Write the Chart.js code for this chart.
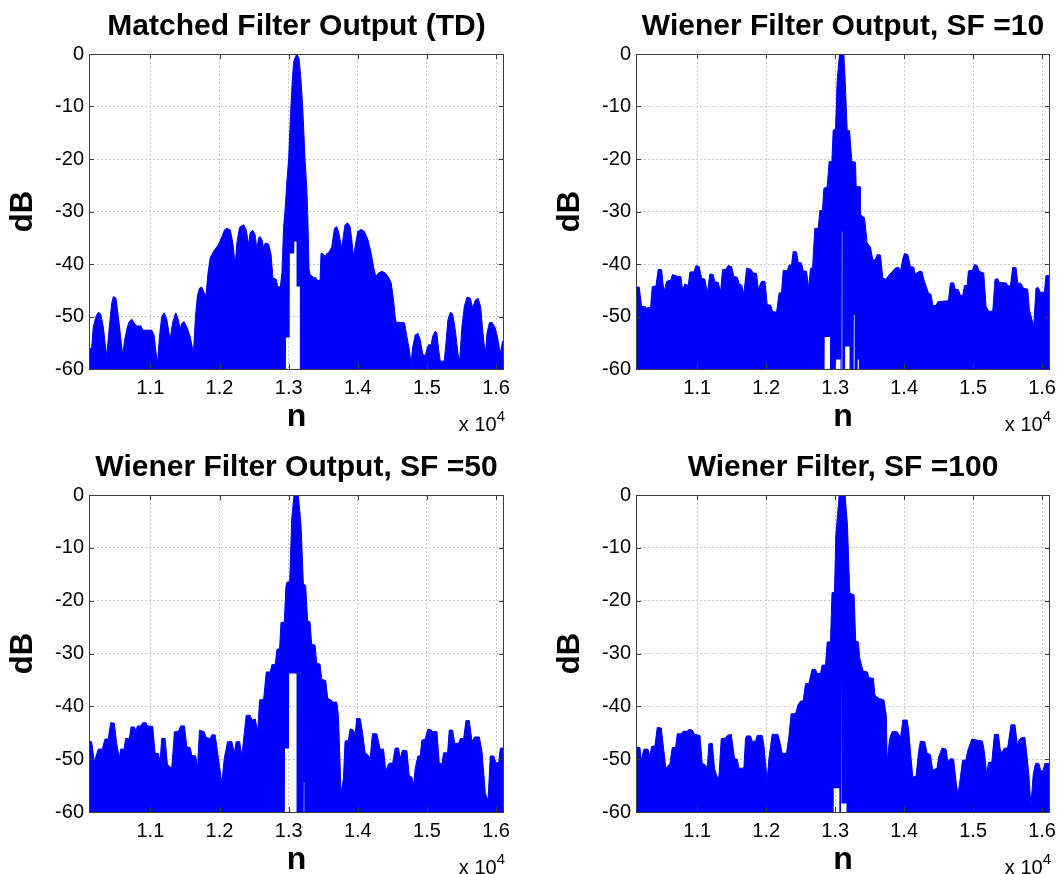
<!DOCTYPE html>
<html>
<head>
<meta charset="utf-8">
<title>Matched and Wiener filter outputs</title>
<script src="https://cdn.jsdelivr.net/npm/chart.js@4.4.1/dist/chart.umd.min.js"></script>
<style>
  html, body { margin: 0; padding: 0; background: #fff; }
  #figure { position: relative; width: 1062px; height: 874px; overflow: hidden;
            font-family: "Liberation Sans", Arial, Helvetica, sans-serif; }
  #figure canvas { position: absolute; }
  .title { position: absolute; text-align: center; font-weight: bold; font-size: 30px;
           line-height: 30px; white-space: nowrap; color: #000; }
  .mult { position: absolute; font-size: 20px; line-height: 20px; white-space: nowrap;
          color: #000; text-align: right; }
  .mult sup { font-size: 15px; line-height: 0; vertical-align: 10px; }
</style>
</head>
<body>
<div id="figure"></div>
<script>
// axis ticks (n axis is shown scaled by 10^4)
const xTickValues = [11000, 12000, 13000, 14000, 15000, 16000];
const xTickLabels = ["1.1", "1.2", "1.3", "1.4", "1.5", "1.6"];
const yTickValues = [-60, -50, -40, -30, -20, -10, 0];
const yTickLabels = ["-60", "-50", "-40", "-30", "-20", "-10", "0"];
const X_MIN = 10112;
const X_MAX = 16115;

// matched filter (time domain): envelope of |y| in dB
const mfN = [10112, 10150, 10174, 10213, 10246, 10280, 10319, 10367, 10406, 10440, 10464, 10502, 10536, 10599, 10628, 10657, 10691, 10730, 10763, 10802, 10865, 10889, 10971, 11019, 11053, 11101, 11130, 11164, 11198, 11237, 11285, 11324, 11367, 11401, 11430, 11459, 11488, 11527, 11575, 11623, 11652, 11681, 11710, 11744, 11778, 11802, 11831, 11865, 11913, 11985, 12034, 12072, 12106, 12155, 12193, 12227, 12251, 12290, 12348, 12386, 12420, 12444, 12483, 12517, 12541, 12565, 12589, 12618, 12638, 12662, 12710, 12744, 12773, 12821, 12841, 12879, 12903, 12927, 12952, 12976, 13000, 13019, 13033, 13053, 13072, 13116, 13150, 13179, 13203, 13237, 13261, 13275, 13295, 13309, 13357, 13391, 13406, 13454, 13468, 13502, 13526, 13551, 13575, 13623, 13662, 13696, 13720, 13744, 13768, 13792, 13816, 13855, 13889, 13913, 13937, 13961, 14000, 14048, 14096, 14145, 14193, 14227, 14261, 14299, 14348, 14396, 14444, 14483, 14517, 14541, 14555, 14613, 14676, 14710, 14749, 14768, 14797, 14831, 14870, 14903, 14937, 14976, 15004, 15024, 15062, 15082, 15120, 15144, 15169, 15193, 15251, 15280, 15304, 15338, 15372, 15410, 15449, 15473, 15507, 15541, 15580, 15628, 15661, 15700, 15739, 15777, 15811, 15845, 15869, 15903, 15941, 15980, 16014, 16062, 16096, 16115];
const mfDb = [-56.2, -56, -52, -50, -49.2, -49.5, -52, -57.6, -52, -47.5, -46.2, -46.5, -50, -57.3, -54.5, -52.5, -51, -50.5, -51.2, -51.8, -51.8, -52.6, -52.6, -52.6, -53.5, -59.2, -54, -50, -49.3, -50.5, -54.4, -51, -49.3, -50.5, -52.2, -51.2, -51, -52, -53.8, -57, -50, -46, -44.6, -44.4, -45.5, -46.2, -42, -38.8, -37.6, -36.3, -34.8, -33.5, -33.2, -33.5, -36, -40.2, -36, -33, -32.5, -33.5, -36.3, -34, -33.6, -34.5, -37.3, -35, -34.8, -35.5, -37, -36, -36.2, -38, -42.7, -42.9, -44.3, -44.4, -41.7, -33, -29, -24, -20, -14, -10, -5, -1.5, 0, -0.8, -5, -10, -20, -25.2, -30, -41, -42, -42.5, -42.6, -43, -43.2, -38, -38.1, -38.6, -38, -37.9, -36.8, -33.2, -32.9, -33.8, -35.3, -37, -34.6, -32.5, -32.2, -32.9, -35.3, -38.6, -36.7, -33.8, -33.4, -33.8, -35.3, -37.9, -40.5, -42.4, -41.7, -41.4, -41.7, -42.5, -43.6, -46.8, -50, -51.1, -51.1, -51.2, -53.8, -56.6, -58.9, -55.7, -53.5, -53.2, -54.4, -57, -57.5, -56, -55.4, -55.4, -53.8, -52.8, -53.2, -56.3, -58.5, -58.5, -54.4, -50.6, -49.2, -49.5, -52.5, -57, -58.5, -51.9, -48.1, -46.3, -46.5, -48.4, -46.9, -46.5, -48.1, -53.2, -57.3, -53.2, -51.2, -51.1, -51.9, -53.5, -57, -54.7, -54.4];
// lower edge of the trace (where the signal never drops to -60 dB)
const mfLowN = [10112, 12960, 12962, 13015, 13017, 13080, 13082, 13114, 13116, 13162, 13164, 16115];
const mfLowDb = [-60, -60, -54, -54, -38, -38, -35.7, -35.7, -44.3, -44.3, -60, -60];

// Wiener filter, SF = 10
const wf10N = [10112, 10159, 10193, 10242, 10266, 10324, 10348, 10401, 10435, 10483, 10517, 10556, 10614, 10643, 10700, 10763, 10787, 10821, 10870, 10894, 10952, 10981, 11029, 11063, 11111, 11145, 11184, 11232, 11256, 11304, 11338, 11367, 11415, 11449, 11498, 11531, 11580, 11609, 11643, 11676, 11715, 11778, 11812, 11860, 11884, 11932, 11981, 12015, 12063, 12092, 12150, 12188, 12222, 12246, 12304, 12333, 12367, 12391, 12440, 12464, 12512, 12536, 12585, 12614, 12643, 12672, 12705, 12754, 12778, 12816, 12836, 12884, 12913, 12952, 12971, 13005, 13029, 13063, 13126, 13145, 13174, 13208, 13242, 13295, 13304, 13360, 13367, 13425, 13464, 13512, 13546, 13580, 13609, 13657, 13691, 13739, 13773, 13811, 13869, 13918, 13947, 13980, 14005, 14053, 14092, 14140, 14159, 14222, 14256, 14294, 14352, 14391, 14415, 14463, 14488, 14642, 14671, 14719, 14739, 14787, 14816, 14850, 14874, 14913, 14932, 14990, 15019, 15058, 15091, 15154, 15188, 15227, 15285, 15318, 15357, 15381, 15478, 15502, 15541, 15574, 15623, 15647, 15695, 15729, 15792, 15816, 15879, 15912, 15946, 15975, 16033, 16057, 16115];
const wf10Db = [-44.4, -44.4, -48.1, -48.1, -48.4, -48.2, -44.3, -44.2, -41, -41.1, -45.4, -43.3, -43.1, -42, -42.3, -42.4, -44.9, -43.8, -44.1, -41.5, -41.5, -40.3, -40.5, -42.7, -42.9, -45.5, -41.9, -42, -43.4, -43.5, -45.4, -41.1, -41, -40.3, -40.5, -42.4, -42.5, -43.8, -44, -45.7, -40.8, -41, -41.7, -41.8, -44.8, -43.3, -43.3, -47.8, -47.8, -49, -49.2, -45.5, -45.5, -41.2, -41.3, -40.2, -40.2, -37.6, -37.7, -39.7, -39.8, -41.3, -41.4, -44.6, -40.8, -40.7, -33.2, -33.2, -29.8, -29.8, -25.6, -25.3, -20.5, -20.5, -14.5, -14.4, -5, 0, 0, -5, -14.5, -14.6, -20.5, -20.6, -25.2, -25.3, -30.6, -31.2, -36, -36.8, -39.2, -39.2, -38.2, -38.3, -42.7, -42.9, -42.2, -41.7, -40.8, -40.6, -41.4, -39, -38, -38.2, -40.5, -40.6, -41.9, -41.4, -41.4, -43.3, -45.5, -45.8, -47.9, -47.9, -47.2, -47, -43.6, -43.6, -44.8, -44.9, -46, -46, -44.1, -44.1, -41.3, -41.2, -40.1, -40.3, -41.4, -41.7, -48.1, -49, -49, -42.9, -42.8, -43.5, -43.6, -44.1, -44.2, -40.7, -40.7, -43.6, -43.7, -44.6, -44.8, -48.7, -51.9, -44.6, -44.5, -45.4, -45.4, -42.2, -42.2];
const wf10LowN = [10112, 12846, 12848, 12925, 12927, 13012, 13014, 13077, 13079, 13094, 13097, 13103, 13106, 13143, 13145, 13208, 13210, 13268, 13271, 13281, 13284, 13326, 13328, 13343, 13345, 16115];
const wf10LowDb = [-60, -60, -53.9, -53.9, -60, -60, -58.2, -58.2, -60, -60, -33.8, -33.8, -60, -60, -55.7, -55.7, -60, -60, -49.7, -49.7, -60, -60, -58.2, -58.2, -60, -60];

// Wiener filter, SF = 50
const wf50N = [10112, 10150, 10189, 10246, 10304, 10343, 10391, 10425, 10478, 10512, 10551, 10570, 10618, 10643, 10696, 10720, 10768, 10792, 10812, 10860, 10889, 10937, 10957, 11034, 11068, 11116, 11140, 11164, 11213, 11246, 11309, 11348, 11406, 11440, 11493, 11527, 11575, 11599, 11657, 11681, 11710, 11778, 11807, 11865, 11889, 11937, 11971, 12034, 12068, 12116, 12179, 12213, 12241, 12290, 12324, 12357, 12386, 12444, 12469, 12517, 12551, 12580, 12638, 12676, 12734, 12758, 12806, 12831, 12869, 12889, 12937, 12960, 12975, 13015, 13045, 13078, 13140, 13179, 13213, 13246, 13275, 13309, 13333, 13382, 13406, 13454, 13478, 13536, 13565, 13613, 13633, 13696, 13720, 13758, 13792, 13816, 13865, 13889, 13937, 13961, 13985, 14034, 14067, 14106, 14154, 14179, 14212, 14275, 14323, 14372, 14406, 14444, 14483, 14502, 14541, 14589, 14613, 14647, 14710, 14744, 14782, 14806, 14831, 14869, 14903, 14927, 14975, 15014, 15062, 15086, 15145, 15178, 15217, 15241, 15299, 15323, 15372, 15401, 15459, 15483, 15531, 15565, 15613, 15652, 15690, 15758, 15797, 15845, 15884, 15917, 15966, 15999, 16038, 16062, 16115];
const wf50Db = [-46.6, -46.7, -50.5, -48.1, -48.1, -46.2, -46.2, -43.1, -43.2, -47, -49.9, -48.1, -48.1, -46.1, -46.1, -43.9, -43.9, -44.7, -43.7, -43.7, -43.1, -43.1, -43.7, -43.8, -48.9, -48.9, -50.5, -46.1, -46.1, -51, -51.7, -44.8, -44.7, -43.7, -43.7, -47.7, -47.8, -49.3, -49.4, -51.9, -44.5, -44.8, -45.9, -46.1, -45.4, -45.4, -48.6, -54.6, -49.9, -46.7, -46.7, -48.9, -46.7, -46.7, -49.4, -45.2, -41.7, -41.7, -42.6, -42.4, -44.8, -38.8, -38.7, -33.5, -33.5, -32.1, -32.1, -29.2, -29.1, -24.1, -24.1, -17.4, -16.5, -16.4, -4.4, 0, 0, -5.7, -16.9, -17.1, -23.9, -24, -28.3, -28.4, -31.9, -32, -34.9, -35.1, -38.5, -38.8, -39.2, -39.2, -41.7, -56.5, -53.7, -46.6, -46.4, -44.3, -44.5, -45.4, -42.3, -42.3, -44.8, -48.8, -49.3, -49.9, -45.2, -45.2, -48.1, -48.1, -52.3, -50.9, -50.7, -50.9, -47.9, -47.9, -49.9, -48.3, -48.4, -53.1, -53.4, -55, -51.7, -49.4, -49.4, -46.4, -46.2, -44.3, -44.5, -44.8, -44.8, -50.7, -50.9, -48.8, -48.8, -44.5, -44.5, -47, -47, -46.1, -46.1, -42.7, -42.7, -46.7, -45.8, -45.8, -48.6, -56.5, -57.8, -49.4, -49.4, -50.7, -50.7, -47.9, -47.9];
const wf50LowN = [10112, 12945, 12947, 13005, 13007, 13114, 13116, 13218, 13220, 13226, 13228, 16115];
const wf50LowDb = [-60, -60, -48, -48, -33.8, -33.8, -60, -60, -54.3, -54.3, -60, -60];

// Wiener filter, SF = 100
const wf100N = [10112, 10169, 10189, 10227, 10285, 10314, 10338, 10387, 10420, 10478, 10507, 10546, 10604, 10638, 10686, 10710, 10768, 10797, 10855, 10879, 10928, 10961, 11039, 11072, 11121, 11145, 11169, 11217, 11251, 11290, 11314, 11348, 11411, 11435, 11493, 11522, 11541, 11580, 11604, 11676, 11700, 11715, 11773, 11797, 11845, 11869, 11942, 11966, 12014, 12039, 12087, 12169, 12198, 12232, 12294, 12328, 12362, 12425, 12459, 12497, 12536, 12570, 12618, 12666, 12715, 12739, 12787, 12811, 12860, 12884, 12932, 12954, 12990, 13010, 13058, 13144, 13178, 13212, 13274, 13298, 13337, 13356, 13404, 13467, 13491, 13553, 13577, 13635, 13707, 13741, 13755, 13789, 13827, 13899, 13948, 13981, 14044, 14068, 14092, 14126, 14174, 14212, 14236, 14299, 14332, 14380, 14414, 14477, 14501, 14549, 14607, 14635, 14669, 14717, 14751, 14780, 14813, 14847, 14895, 14924, 14982, 15136, 15164, 15198, 15222, 15270, 15309, 15367, 15391, 15415, 15453, 15501, 15549, 15607, 15646, 15665, 15703, 15751, 15775, 15809, 15838, 15871, 15905, 15953, 15982, 16016, 16040, 16115];
const wf100Db = [-47.7, -47.8, -50.2, -48.1, -48.1, -49.4, -47.6, -47.5, -44, -44.1, -47.4, -51.8, -50.8, -47.8, -47.8, -45.2, -45.2, -44.7, -44.7, -44.4, -44.5, -45.3, -45.5, -50.8, -51.1, -51.8, -47.1, -47, -51.8, -53.4, -53.4, -46.1, -46, -45.5, -45.3, -48, -49.9, -50, -51.7, -51.7, -46.1, -45.6, -45.6, -46.6, -46.6, -45.5, -45.5, -47.4, -54, -49.9, -45.3, -45.3, -46.7, -48.9, -48.9, -45.8, -41.4, -41.4, -39.8, -39, -39, -35.7, -35.7, -33, -33, -33.8, -33.8, -32.2, -32.2, -27.8, -27.8, -18.5, -18.4, -7.6, 0, 0, -5.7, -18.6, -18.9, -27.7, -27.8, -30.9, -33.3, -33.5, -34.6, -34.7, -37.9, -38.5, -38.8, -41.7, -50.5, -46.1, -44.8, -44.8, -45.9, -42.6, -42.6, -44.8, -48.6, -53.4, -53.2, -48.3, -46.6, -46.7, -48.9, -49.1, -52.1, -51.7, -49.6, -47.9, -48.1, -50.5, -49.9, -50, -54, -56.8, -53.7, -50.2, -50.2, -48.3, -46.2, -46.6, -48.6, -53, -50.6, -50.6, -45.3, -45.3, -48, -48.9, -47.9, -47.9, -43.5, -43.5, -47.7, -46.4, -45.9, -45.9, -48.6, -53, -58.9, -53, -50.8, -50.8, -52.2, -52.2, -50.8, -50.8];
const wf100LowN = [10112, 12978, 12980, 13060, 13062, 13084, 13087, 13093, 13096, 13164, 13166, 16115];
const wf100LowDb = [-60, -60, -55.5, -55.5, -60, -60, -34, -34, -58.4, -58.4, -60, -60];

const BLUE = "#0000ff";
const GRID = "#c8c8c8";
const PANEL_W = 531;
const PANEL_H = 437;
const FONT = "'Liberation Sans', Arial, Helvetica, sans-serif";

Chart.defaults.font.family = FONT;
Chart.defaults.color = "#000";

// panel origin on the page and the plot box [left, top, right, bottom]
const panels = [
  { title: "Matched Filter Output (TD)", n: mfN, db: mfDb, lowN: mfLowN, lowDb: mfLowDb,
    left: 0, top: 0, box: [89, 54, 504, 369] },
  { title: "Wiener Filter Output, SF =10", n: wf10N, db: wf10Db, lowN: wf10LowN, lowDb: wf10LowDb,
    left: 531, top: 0, box: [636, 54, 1050, 369] },
  { title: "Wiener Filter Output, SF =50", n: wf50N, db: wf50Db, lowN: wf50LowN, lowDb: wf50LowDb,
    left: 0, top: 437, box: [89, 495, 504, 812] },
  { title: "Wiener Filter, SF =100", n: wf100N, db: wf100Db, lowN: wf100LowN, lowDb: wf100LowDb,
    left: 531, top: 437, box: [636, 495, 1050, 812] }
];

// MATLAB style box: frame all round with inward ticks on every side
const axesBox = {
  id: "axesBox",
  afterDatasetsDraw(chart) {
    const { ctx, chartArea: a, scales: { x, y } } = chart;
    const len = 5;
    ctx.save();
    ctx.strokeStyle = "#3c3c3c";
    ctx.lineWidth = 1;
    ctx.beginPath();
    xTickValues.forEach(v => {
      const px = Math.round(x.getPixelForValue(v)) + 0.5;
      ctx.moveTo(px, a.bottom); ctx.lineTo(px, a.bottom - len);
      ctx.moveTo(px, a.top); ctx.lineTo(px, a.top + len);
    });
    yTickValues.forEach(v => {
      const py = Math.round(y.getPixelForValue(v)) + 0.5;
      ctx.moveTo(a.left, py); ctx.lineTo(a.left + len, py);
      ctx.moveTo(a.right, py); ctx.lineTo(a.right - len, py);
    });
    ctx.stroke();
    ctx.strokeRect(a.left + 0.5, a.top + 0.5, a.right - a.left - 1, a.bottom - a.top);
    ctx.restore();
  }
};

function toPoints(xs, ys) {
  return xs.map((v, i) => ({ x: v, y: ys[i] }));
}

function renderPanel(p) {
  const fig = document.getElementById("figure");
  const [bl, bt, br, bb] = p.box;

  const canvas = document.createElement("canvas");
  canvas.width = PANEL_W;
  canvas.height = PANEL_H;
  canvas.style.left = p.left + "px";
  canvas.style.top = p.top + "px";
  fig.appendChild(canvas);

  const title = document.createElement("div");
  title.className = "title";
  title.textContent = p.title;
  title.style.left = (bl - 100) + "px";
  title.style.width = (br - bl + 200) + "px";
  title.style.top = (bt - 44.2) + "px";
  fig.appendChild(title);

  const mult = document.createElement("div");
  mult.className = "mult";
  mult.innerHTML = "x 10<sup>4</sup>";
  mult.style.right = (1062 - br - 1) + "px";
  mult.style.top = (bb + 45) + "px";
  fig.appendChild(mult);

  const axisW = bl - p.left;
  const axisH = p.top + PANEL_H - bb;

  new Chart(canvas.getContext("2d"), {
    type: "line",
    data: {
      datasets: [
        {
          data: toPoints(p.n, p.db),
          borderColor: BLUE,
          backgroundColor: BLUE,
          borderWidth: 1,
          pointRadius: 0,
          fill: "+1"
        },
        {
          data: toPoints(p.lowN, p.lowDb),
          borderColor: "rgba(0,0,0,0)",
          borderWidth: 0,
          pointRadius: 0,
          fill: false
        }
      ]
    },
    options: {
      responsive: false,
      animation: false,
      events: [],
      layout: {
        padding: { left: 0, top: bt - p.top, right: p.left + PANEL_W - br, bottom: 0 }
      },
      plugins: {
        legend: { display: false },
        tooltip: { enabled: false }
      },
      scales: {
        x: {
          type: "linear",
          min: X_MIN,
          max: X_MAX,
          afterBuildTicks: s => { s.ticks = xTickValues.map(v => ({ value: v })); },
          afterFit: s => { s.height = axisH; s.paddingLeft = 0; s.paddingRight = 0; },
          grid: { color: GRID, lineWidth: 1, drawTicks: false },
          border: { display: false, dash: [2, 2] },
          ticks: {
            padding: 7,
            maxRotation: 0,
            autoSkip: false,
            font: { size: 20 },
            callback: (v, i) => xTickLabels[i]
          },
          title: {
            display: true,
            text: "n",
            font: { size: 32, weight: "bold", lineHeight: 0.5 },
            padding: { top: 0, bottom: (p.top + PANEL_H) - 8 - (bb + 47.9) }
          }
        },
        y: {
          min: -60,
          max: 0,
          afterBuildTicks: s => { s.ticks = yTickValues.map(v => ({ value: v })); },
          afterFit: s => { s.width = axisW; s.paddingTop = 0; s.paddingBottom = 0; },
          grid: { color: GRID, lineWidth: 1, drawTicks: false },
          border: { display: false, dash: [2, 2] },
          ticks: {
            padding: 5,
            font: { size: 20 },
            callback: (v, i) => yTickLabels[i]
          },
          title: {
            display: true,
            text: "dB",
            font: { size: 31, weight: "bold", lineHeight: 1 },
            padding: { top: (bl - 65.3 - p.left) - 15.5, bottom: 0 }
          }
        }
      }
    },
    plugins: [axesBox]
  });
}

panels.forEach(renderPanel);
</script>
</body>
</html>
